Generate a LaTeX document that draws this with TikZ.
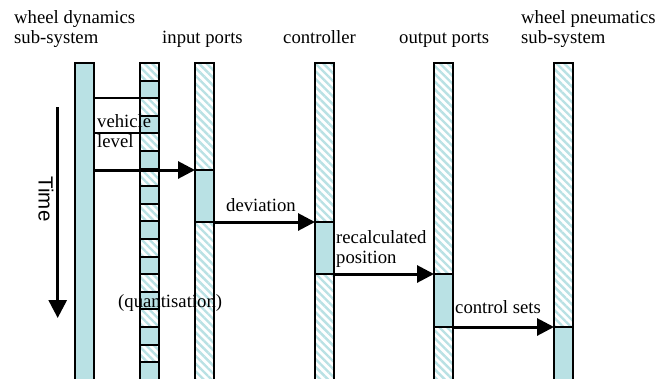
\documentclass[tikz,border=0pt]{standalone}
\usepackage{fontspec}
\setmainfont{Liberation Serif}
\newfontfamily\timefont{Liberation Sans}
\usetikzlibrary{arrows.meta,patterns.meta}

\definecolor{barfill}{HTML}{B9E1E4}
\definecolor{hatchc}{HTML}{B9E1E4}

\newcommand\lblfont{\fontsize{18.7}{20}\selectfont}

\tikzset{
  seg/.style={draw=black, line width=2pt, minimum width=18.5pt,
    inner sep=0pt, outer sep=0pt, anchor=north west},
  act/.style={seg, fill=barfill},
  idle/.style={seg, preaction={fill=white},
    pattern={Lines[angle=-45, distance=5.5pt, line width=2.4pt]},
    pattern color=hatchc},
  tick/.style={line width=2pt},
  msg/.style={line width=3pt, -{Triangle[length=17pt, width=17pt]}},
  timearrow/.style={line width=3pt, -{Triangle[length=18pt, width=18pt]}},
  lbl/.style={anchor=base west, inner sep=0pt, font=\lblfont, align=left},
}

\begin{document}
\begin{tikzpicture}[x=1pt, y=-1pt]
\clip (0,0) rectangle (672,378);
\fill[white] (0,0) rectangle (672,378);

% wheel dynamics sub-system: busy throughout
\node[act, minimum height=330pt] (wd) at (75,63) {};

% sampling clock: alternating idle / active slots
\foreach \k in {0,...,18}{
  \ifodd\k
    \node[act, minimum height=17.6pt] (q\k) at (140,{63+17.6*\k}) {};
  \else
    \node[idle, minimum height=17.6pt] (q\k) at (140,{63+17.6*\k}) {};
  \fi
}

% input ports
\node[idle, minimum height=107pt] (ip1) at (195,63) {};
\node[act,  minimum height=52pt]  (ip2) at (195,170) {};
\node[idle, minimum height=170pt] (ip3) at (195,222) {};

% controller
\node[idle, minimum height=159pt] (ct1) at (315,63) {};
\node[act,  minimum height=52pt]  (ct2) at (315,222) {};
\node[idle, minimum height=120pt] (ct3) at (315,274) {};

% output ports
\node[idle, minimum height=211pt] (op1) at (434,63) {};
\node[act,  minimum height=53pt]  (op2) at (434,274) {};
\node[idle, minimum height=70pt]  (op3) at (434,327) {};

% wheel pneumatics sub-system
\node[idle, minimum height=264pt] (wp1) at (554,63) {};
\node[act,  minimum height=70pt]  (wp2) at (554,327) {};

% vehicle level interval
\draw[tick] (wd.east |- q2.north) -- (q2.north west);
\draw[tick] (wd.east |- q4.north) -- (q4.north west);

% messages
\draw[msg] (wd.east |- ip2.north) -- (ip2.north west);
\draw[msg] (ip2.south east) -- (ct2.north west);
\draw[msg] (ct2.south east) -- (op2.north west);
\draw[msg] (op2.south east) -- (wp2.north west);

% time axis
\coordinate (t-top) at (57.7,107);
\coordinate (t-bot) at (57.7,318);
\draw[timearrow] (t-top) -- (t-bot);
\node[rotate=-90, inner sep=0pt, font=\timefont\fontsize{20.5}{24}\selectfont] (time) at (46,199) {Time};

% column headings (base anchor sits on the last line)
\node[lbl] (h-wd) at (14,43.5) {wheel dynamics\\sub-system};
\node[lbl] (h-ip) at (162,43.6) {input ports};
\node[lbl] (h-ct) at (283,43.6) {controller};
\node[lbl] (h-op) at (399,43.6) {output ports};
\node[lbl] (h-wp) at (521,43.5) {wheel pneumatics\\sub-system};

% message labels
\node[lbl] (l-veh) at (97,147) {vehicle\\level};
\node[lbl] (l-dev) at (226,211) {deviation};
\node[lbl] (l-rec) at (336,263.5) {recalculated\\position};
\node[lbl] (l-cs)  at (455,313.3) {control sets};
\node[lbl] (l-q)   at (118,307) {(quantisation)};
\end{tikzpicture}
\end{document}
